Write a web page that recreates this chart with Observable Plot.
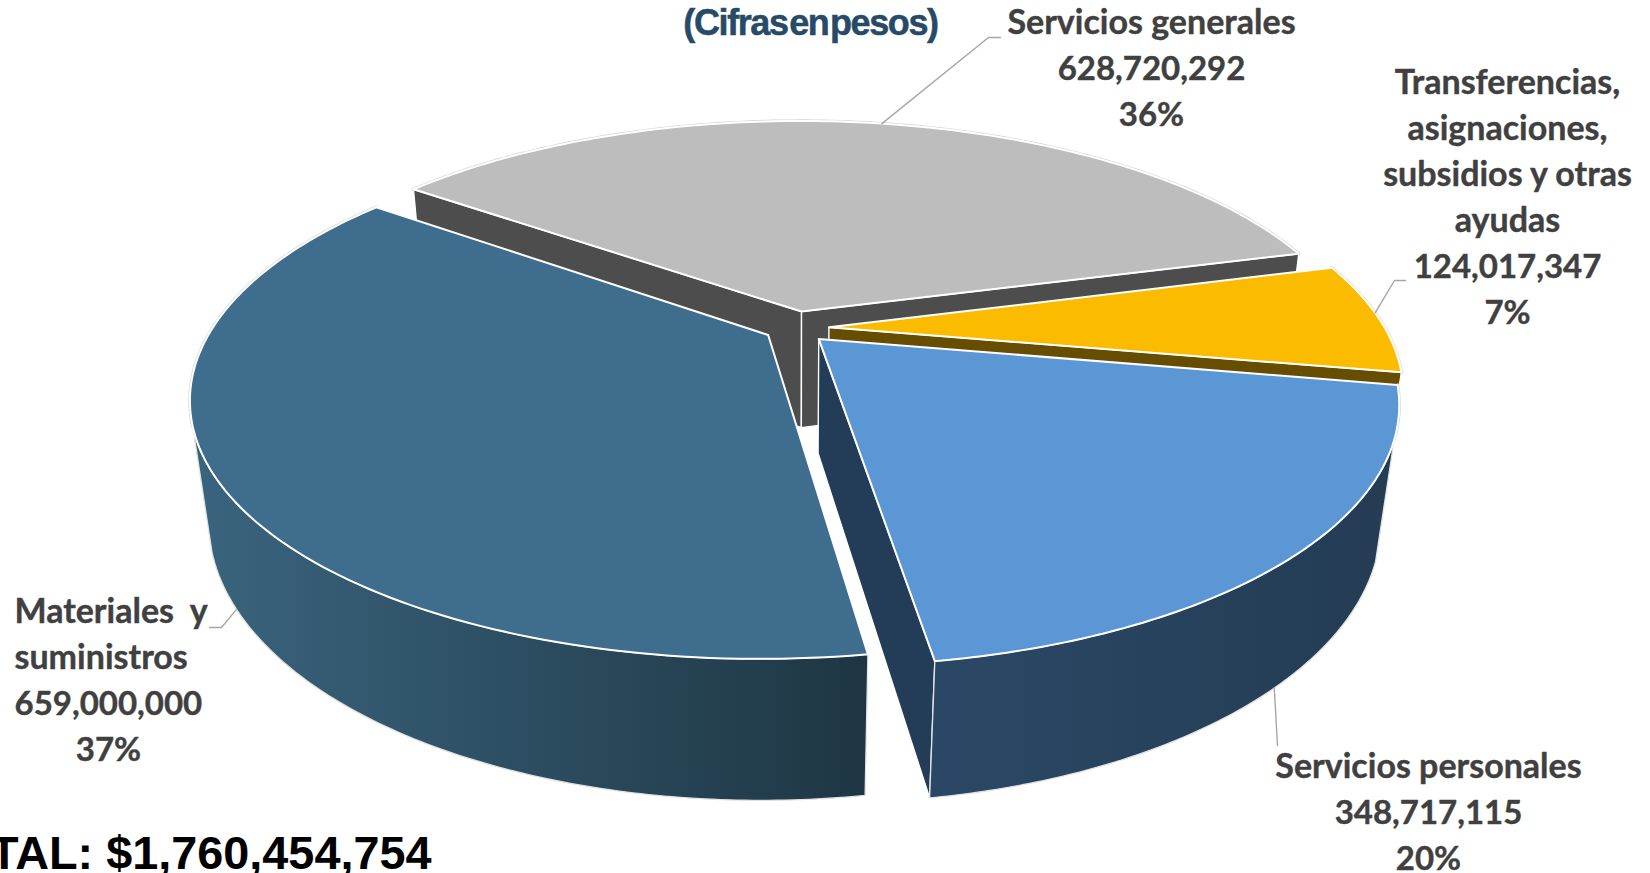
<!DOCTYPE html>
<html lang="es">
<head>
<meta charset="utf-8">
<title>Gasto por capítulo</title>
<script src="https://cdn.jsdelivr.net/npm/d3@7"></script>
<script src="https://cdn.jsdelivr.net/npm/@observablehq/plot@0.6"></script>
<style>
  html, body { margin: 0; padding: 0; background: #fff; }
  svg { display: block; }
</style>
</head>
<body>
<script>
// ---- data ----
const categories = ["Servicios generales", "Transferencias", "Servicios personales", "Materiales y suministros"];
const values = [628720292, 124017347, 348717115, 659000000];
const percents = ["36%", "7%", "20%", "37%"];
const labelLines = [
  ["Servicios generales"],
  ["Transferencias,", "asignaciones,", "subsidios y otras", "ayudas"],
  ["Servicios personales"],
  ["Materiales  y", "suministros"]
];
const titleText = "(Cifras en pesos)";
const totalText = "TOTAL: $1,760,454,754";

// ---- styles and layout ----
const W = 1650, H = 873;
const topColors = ["#bdbdbd", "#fbbc00", "#5b97d5", "#3f6d8e"];
const cutColors = ["#4d4d4d", "#664d00", "#233d58", "#2a4a60"];
const gradients = {
  pers: ["#2a4865", "#243c54"],
  mat: ["#3a647e", "#1e3643"]
};
const explode = [0.07, 0.062, 0.062, 0.055];
const depth = [1, 1, 0.965, 1];
const startAngle = 143.7;
const silhouette = {per: -21.7, mat: -160};
const view = {cx: 794, cy: 327.5, A: 556, B: 243, k: 0.238, C: 121, m: 0.03};
const labelAnchors = [
  {x: 1151, y: 23, lead: 0.5},
  {x: 1507, y: 83, lead: 0.46},
  {x: 1428, y: 767, lead: 0.511},
  {x: 108, y: 612, lead: 0.5}
];
const lineGap = 46;

// ---- geometry ----
const total = d3.sum(values);
const rad = Math.PI / 180;
let acc = startAngle;
const slices = values.map((v, i) => {
  const a0 = acc, a1 = acc - 360 * v / total;
  acc = a1;
  const mid = (a0 + a1) / 2;
  return {i, a0, a1, h: depth[i], ox: explode[i] * Math.cos(mid * rad), oy: -explode[i] * Math.sin(mid * rad)};
});
function project(u, v, h) {
  const d = 1 - view.k * v + view.m * h;
  return {x: view.cx + view.A * u / d, y: view.cy + (view.B * v + view.C * h) / d};
}
const rim = (s, a, h) => project(s.ox + Math.cos(a * rad), s.oy - Math.sin(a * rad), h * s.h);
const apex = (s, h) => project(s.ox, s.oy, h * s.h);
const arc = (s, a0, a1, h) => d3.range(0, 121).map(j => rim(s, a0 + (a1 - a0) * j / 120, h));

const face = (pts, fill, strokeWidth = 1.8, stroke = "#fff") =>
  Plot.line([...pts, pts[0]], {x: "x", y: "y", fill, stroke, strokeWidth, strokeLinejoin: "round", curve: "linear"});
const topFace = s => face([apex(s, 0), ...arc(s, s.a0, s.a1, 0)], topColors[s.i], 2);
const cutFace = (s, a) => face([apex(s, 0), rim(s, a, 0), rim(s, a, 1), apex(s, 1)], cutColors[s.i], 1.4);
const sideFace = (s, a0, a1, fill) => face([...arc(s, a0, a1, 0), ...arc(s, a1, a0, 1)], fill, 1.3, "#e2e2e2");
const halo = (s, a0, a1) => Plot.line(arc(s, a0, a1, 0), {x: "x", y: "y", stroke: "#d4d4d4", strokeWidth: 3.2, curve: "linear"});

const [gen, tra, per, mat] = slices;

// ---- text rows ----
const rows = [];
categories.forEach((c, i) => {
  const words = labelLines[i];
  const lines = [...words, d3.format(",")(values[i]), percents[i]];
  lines.forEach((text, j) => rows.push({
    text,
    i,
    x: labelAnchors[i].x,
    y: labelAnchors[i].y + j * lineGap,
    size: j < words.length ? 34 : 33,
    anchor: i === 3 && j < lines.length - 1 ? "start" : "middle"
  }));
});
const labelStyle = {x: "x", y: "y", text: "text", fontFamily: "Lato, 'Open Sans', sans-serif", fontWeight: 700, fontSize: "size", fill: "#404040", stroke: "#404040", strokeWidth: 0.4, lineAnchor: "middle"};

// ---- leaders ----
const leaderBends = [
  [{x: 988, y: 37}, {x: 1000, y: 37}],
  [{x: 1394, y: 280}, {x: 1405, y: 280}],
  [{x: 1277, y: 745}],
  [{x: 221, y: 627}, {x: 209, y: 627}]
];
const leaders = slices.map(s => {
  const a = s.a0 + (s.a1 - s.a0) * labelAnchors[s.i].lead;
  return [s.i === 2 || s.i === 3 ? rim(s, a, 1) : rim(s, a, 0), ...leaderBends[s.i]];
});

const defs = () => {
  const d = d3.create("svg:defs");
  for (const [id, [c0, c1]] of Object.entries(gradients)) {
    const g = d.append("linearGradient").attr("id", id).attr("x1", 0).attr("x2", 1).attr("y1", 0).attr("y2", 0);
    g.append("stop").attr("offset", "0%").attr("stop-color", c0);
    g.append("stop").attr("offset", "100%").attr("stop-color", c1);
  }
  return d.node();
};

const tightTitle = (index, scales, values, dims, ctx, next) => {
  const g = next(index, scales, values, dims, ctx);
  d3.select(g).selectAll("text").style("letter-spacing", "-1.4px").style("word-spacing", "-7px");
  return g;
};

const chart = Plot.plot({
  width: W, height: H,
  margin: 0,
  x: {domain: [0, W], range: [0, W], axis: null},
  y: {domain: [0, H], range: [0, H], axis: null},
  style: {background: "#fff"},
  marks: [
    defs,
    // back slice
    cutFace(gen, gen.a0), cutFace(gen, gen.a1), halo(gen, gen.a0, gen.a1), topFace(gen),
    // yellow slice
    cutFace(tra, tra.a1), halo(tra, tra.a0, tra.a1), topFace(tra),
    // right slice
    cutFace(per, per.a1), sideFace(per, per.a1, silhouette.per, "url(#pers)"), halo(per, per.a0, silhouette.per), topFace(per),
    // left slice
    sideFace(mat, mat.a0, silhouette.mat, "url(#mat)"), halo(mat, silhouette.mat, mat.a1), topFace(mat),
    // leaders
    ...leaders.map(l => Plot.line(l, {x: "x", y: "y", stroke: "#a6a6a6", strokeWidth: 1.4, curve: "linear"})),
    // text
    Plot.text(rows.filter(r => r.anchor === "middle"), {...labelStyle, textAnchor: "middle"}),
    Plot.text(rows.filter(r => r.anchor === "start").map(r => ({...r, x: 14})), {...labelStyle, textAnchor: "start"}),
    Plot.text([titleText], {x: () => 810, y: () => 23, text: d => d, fontFamily: "'Liberation Sans', Arial, sans-serif", fontWeight: 700, fontSize: 36, fill: "#264a67", stroke: "#264a67", strokeWidth: 0.5, textAnchor: "middle", lineAnchor: "middle", render: tightTitle}),
    Plot.text([totalText], {x: () => 431, y: () => 854, text: d => d, fontFamily: "'Liberation Sans', Arial, sans-serif", fontWeight: 700, fontSize: 46.8, fill: "#000", textAnchor: "end", lineAnchor: "middle"})
  ]
});
document.body.append(chart);
</script>
</body>
</html>
